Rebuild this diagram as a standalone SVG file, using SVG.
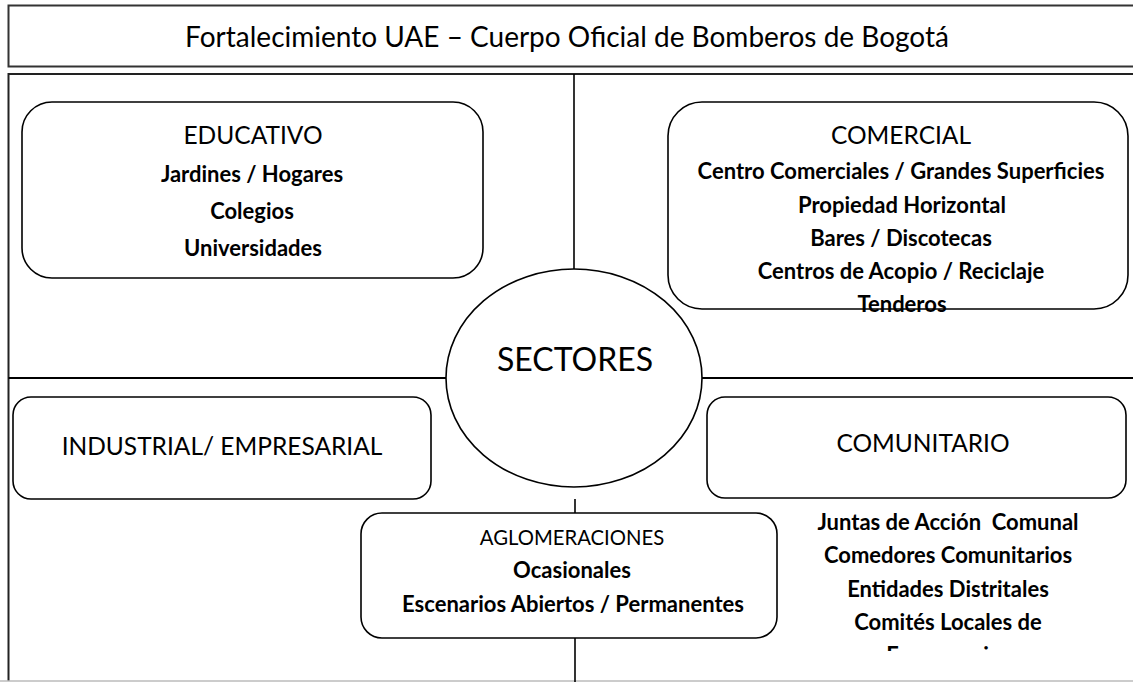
<svg xmlns="http://www.w3.org/2000/svg" width="1133" height="682" viewBox="0 0 1133 682">
<defs>
<style>
.box{fill:#fff;stroke:#000;stroke-width:1.6}
.frame{fill:none;stroke:#222;stroke-width:2}
.ln{stroke:#000;stroke-width:1.6;fill:none}
.t{font-family:Lato,"Open Sans","Liberation Sans",sans-serif;fill:#000;text-anchor:middle}
.h{font-size:24.5px}
.b{font-size:22px;font-weight:bold}
</style>
<clipPath id="cut"><rect x="0" y="0" width="1133" height="651"/></clipPath>
</defs>
<rect width="1133" height="682" fill="#fff"/>
<g id="title">
<rect x="8.5" y="5.5" width="1140" height="61" fill="#fff" stroke="#333" stroke-width="2"/>
<text class="t" x="567" y="47" style="font-size:28px">Fortalecimiento UAE – Cuerpo Oficial de Bomberos de Bogotá</text>
</g>
<g id="frame">
<path class="frame" d="M8.5,681 V74 H1140"/>
<line x1="0" y1="681" x2="1133" y2="681" stroke="#bbb" stroke-width="1.5"/>
</g>
<g id="connectors">
<line class="ln" x1="574" y1="74" x2="574" y2="269"/>
<line class="ln" x1="8.5" y1="378" x2="446" y2="378" style="stroke-width:2"/>
<line class="ln" x1="702" y1="378" x2="1133" y2="378" style="stroke-width:2"/>
<line class="ln" x1="575" y1="499" x2="575" y2="513"/>
<line class="ln" x1="575" y1="638" x2="575" y2="682"/>
</g>
<g id="educativo">
<rect class="box" x="22" y="102" width="461" height="176" rx="30" ry="30"/>
<text class="t h" x="253" y="144">EDUCATIVO</text>
<text class="t b" x="252" y="182">Jardines / Hogares</text>
<text class="t b" x="252" y="219">Colegios</text>
<text class="t b" x="253" y="256">Universidades</text>
</g>
<g id="comercial">
<rect class="box" x="668" y="102" width="460" height="207" rx="34" ry="34"/>
<text class="t h" x="901" y="144">COMERCIAL</text>
<text class="t b" x="901" y="179">Centro Comerciales / Grandes Superficies</text>
<text class="t b" x="902" y="213">Propiedad Horizontal</text>
<text class="t b" x="901" y="246">Bares / Discotecas</text>
<text class="t b" x="901" y="279">Centros de Acopio / Reciclaje</text>
<text class="t b" x="902" y="312">Tenderos</text>
</g>
<g id="sectores">
<ellipse class="box" cx="574" cy="378" rx="128" ry="109"/>
<text class="t" x="575" y="371" style="font-size:32px">SECTORES</text>
</g>
<g id="industrial">
<rect class="box" x="13" y="397" width="418" height="102" rx="18" ry="18"/>
<text class="t h" x="222" y="455">INDUSTRIAL/ EMPRESARIAL</text>
</g>
<g id="comunitario">
<rect class="box" x="707" y="397" width="419" height="101" rx="18" ry="18"/>
<text class="t h" x="923" y="452">COMUNITARIO</text>
<text class="t b" x="948" y="530" xml:space="preserve">Juntas de Acción  Comunal</text>
<text class="t b" x="948" y="563">Comedores Comunitarios</text>
<text class="t b" x="948" y="597">Entidades Distritales</text>
<text class="t b" x="948" y="630">Comités Locales de</text>
<text class="t b" x="948" y="663" clip-path="url(#cut)">Emergencias</text>
</g>
<g id="aglomeraciones">
<rect class="box" x="361" y="513" width="416" height="125" rx="21" ry="21"/>
<text class="t" x="572" y="545" style="font-size:20.3px">AGLOMERACIONES</text>
<text class="t b" x="572" y="578">Ocasionales</text>
<text class="t b" x="573" y="612">Escenarios Abiertos / Permanentes</text>
</g>
</svg>
